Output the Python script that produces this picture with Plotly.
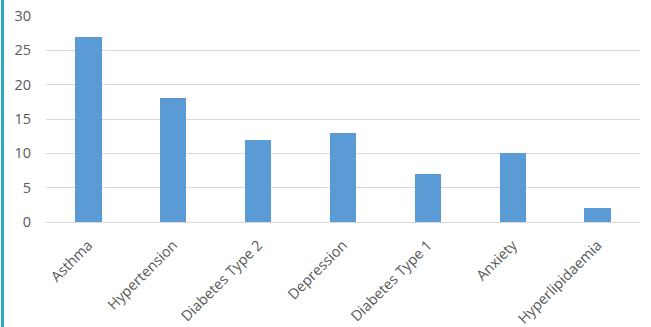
import plotly.graph_objects as go

conditions = ["Asthma", "Hypertension", "Diabetes Type 2", "Depression",
              "Diabetes Type 1", "Anxiety", "Hyperlipidaemia"]
counts = [27, 18, 12, 13, 7, 10, 2]
y_ticks = [0, 5, 10, 15, 20, 25, 30]

W, H = 651, 327
ML, MR, MT, MB = 46, 11, 16, 105
plot_w = W - ML - MR

fig = go.Figure(go.Bar(
    x=conditions,
    y=counts,
    marker=dict(color="#5B9BD5", line=dict(width=0)),
    width=0.31,
))

fig.update_layout(
    width=W,
    height=H,
    margin=dict(l=ML, r=MR, t=MT, b=MB, autoexpand=False),
    paper_bgcolor="white",
    plot_bgcolor="white",
    font=dict(family="Open Sans", size=14, color="#595959"),
    showlegend=False,
    bargap=0,
    shapes=[
        # teal accent rule down the left edge of the panel
        dict(type="line", xref="paper", yref="paper",
             x0=(2.5 - ML) / plot_w, x1=(2.5 - ML) / plot_w,
             y0=-MB / (H - MT - MB), y1=1 + MT / (H - MT - MB),
             line=dict(color="#2AA8BC", width=3)),
    ],
)

fig.update_xaxes(
    automargin=False,
    tickangle=-45,
    showgrid=False,
    showline=True,
    linecolor="#D9D9D9",
    linewidth=1,
    ticks="",
    ticklabelstandoff=8,
    tickfont=dict(size=14.5, color="#595959"),
)

fig.update_yaxes(
    automargin=False,
    range=[0, 30],
    tickvals=y_ticks,
    showgrid=True,
    gridcolor="#D9D9D9",
    gridwidth=1,
    zeroline=False,
    showline=False,
    ticks="",
    ticklabelstandoff=14,
    tickfont=dict(size=14.5, color="#595959"),
)

fig.write_html("out.html")
